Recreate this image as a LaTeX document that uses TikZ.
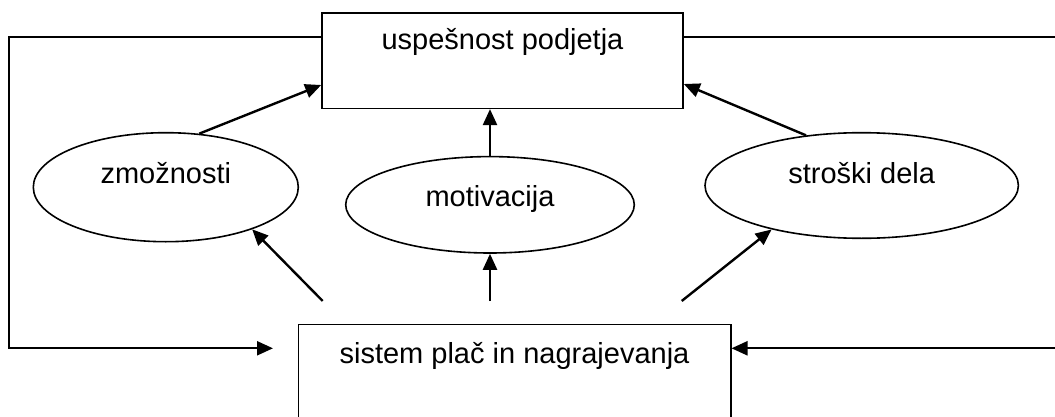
\documentclass[tikz,border=0pt]{standalone}
\usepackage{fontspec}
\setmainfont{Liberation Sans}
\usetikzlibrary{shapes.geometric,arrows.meta}
\begin{document}
\begin{tikzpicture}[x=1pt,y=1pt,
  every node/.style={font=\fontsize{29}{34}\selectfont},
  box/.style={draw, line width=1.6pt, inner sep=0pt, rectangle},
  oval/.style={draw, ellipse, line width=1.6pt, inner sep=0pt, text height=10pt},
  arr/.style={line width=2.4pt, -{Triangle[length=16pt,width=14pt]}},
  feed/.style={line width=2.2pt, -{Triangle[length=16pt,width=14pt]}}]
\useasboundingbox (0,0) rectangle (1055,416);

% outcome and system boxes
\node[box, minimum width=361pt, text height=36.7pt, text depth=58.3pt] (top) at (502.5,355.2) {uspešnost podjetja};
\node[box, minimum width=432.4pt, text height=39pt, text depth=56pt] (sy) at (514.5,44.2) {sistem plač in nagrajevanja};

% intermediate factors
\node[oval, minimum width=265pt, minimum height=109pt, text depth=17.8pt] (zm) at (165.8,228.8) {zmožnosti};
\node[oval, minimum width=288.6pt, minimum height=96.4pt, text depth=7.6pt] (mo) at (490,211.2) {motivacija};
\node[oval, minimum width=313.4pt, minimum height=105.6pt, text depth=14.4pt] (st) at (861.7,230.5) {stroški dela};

% free ends of the connectors
\coordinate (s1) at (322.7,115);
\coordinate (s2) at (490,115);
\coordinate (s3) at (681.7,115);
\coordinate (lc) at (9.3,67.7);
\coordinate (lin) at (273,67.7);
\coordinate (rc) at (1062,67.7);

% factors -> outcome
\draw[arr] (zm.58) -- ([yshift=-24.2pt]top.west);
\draw[arr] (mo.north) -- (mo.north |- top.south);
\draw[arr] (st.138) -- ([yshift=-23.2pt]top.east);

% system -> factors
\draw[arr] (s1) -- (zm.-26);
\draw[arr] (s2) -- (mo.south);
\draw[arr] (s3) -- (st.206);

% feedback loops
\draw[feed] ([yshift=24.1pt]top.west) -| (lc) -- (lin);
\draw[feed] ([yshift=24.1pt]top.east) -| (rc) -- ([yshift=23.5pt]sy.east);
\end{tikzpicture}
\end{document}
